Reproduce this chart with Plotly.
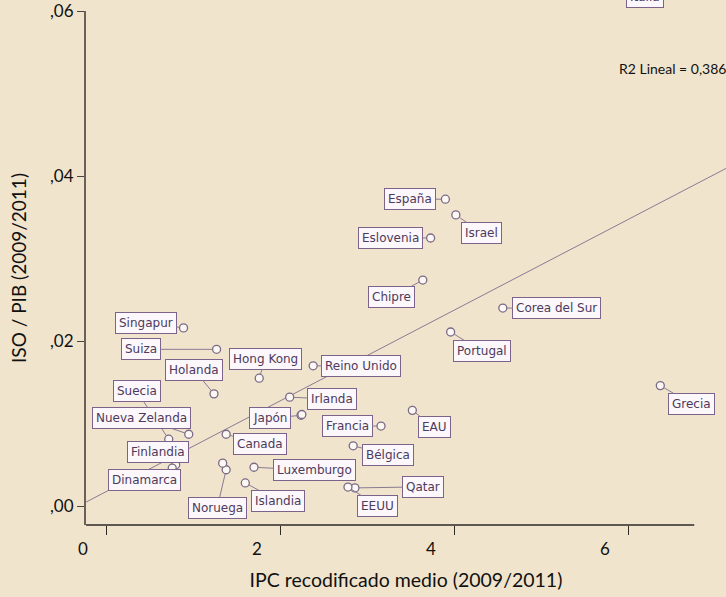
import plotly.graph_objects as go

# ---- data ----
countries = ["Singapur", "Suiza", "Hong Kong", "Holanda", "Suecia", "Nueva Zelanda",
             "Finlandia", "Dinamarca", "Canada", "Noruega", "Islandia", "Luxemburgo",
             "Japón", "Irlanda", "Reino Unido", "Francia", "EAU", "Bélgica", "Qatar",
             "EEUU", "España", "Israel", "Eslovenia", "Chipre", "Corea del Sur",
             "Portugal", "Grecia", "", ""]
ipc = [0.88, 1.26, 1.75, 1.23, 0.71, 0.94, 0.79, 0.75, 1.37, 1.37, 1.59, 1.69,
       2.23, 2.10, 2.37, 3.15, 3.51, 2.83, 2.85, 2.77, 3.89, 4.01, 3.72, 3.63,
       4.55, 3.95, 6.36, 1.33, 2.24]
iso_pib = [0.0216, 0.0190, 0.0155, 0.0136, 0.0081, 0.0087, 0.0050, 0.0046, 0.0087,
           0.0044, 0.0028, 0.0047, 0.0110, 0.0132, 0.0170, 0.0097, 0.0116, 0.0073,
           0.0022, 0.0023, 0.0372, 0.0353, 0.0325, 0.0274, 0.0240, 0.0211, 0.0146,
           0.0052, 0.0111]
italia_ipc = 6.18          # Italia lies above the visible range

fit_intercept = 0.0018
fit_slope = 0.0055
r2_text = "R2 Lineal = 0,386"

x_ticks = [0, 2, 4, 6]
x_ticktext = ["0", "2", "4", "6"]
y_ticks = [0.0, 0.02, 0.04, 0.06]
y_ticktext = [",00", ",02", ",04", ",06"]

# ---- label placement (pixel offsets of the label box from its point) ----
label_offsets = {
    "Singapur": (-38, -5), "Suiza": (-76, 0), "Hong Kong": (6, -19),
    "Holanda": (-20, -24), "Suecia": (-32, -48), "Nueva Zelanda": (-47, -16),
    "Finlandia": (-18, -13), "Dinamarca": (-28, 12), "Canada": (34, 10),
    "Noruega": (-9, 38), "Islandia": (33, 18), "Luxemburgo": (60, 3),
    "Japón": (-31, 3), "Irlanda": (42, 2), "Reino Unido": (48, 0),
    "Francia": (-34, 0), "EAU": (22, 17), "Bélgica": (35, 9), "Qatar": (68, -1),
    "EEUU": (30, 19), "España": (-35, 0), "Israel": (26, 18), "Eslovenia": (-40, 0),
    "Chipre": (-31, 17), "Corea del Sur": (54, 0), "Portugal": (31, 19),
    "Grecia": (31, 18),
}

BG = "#f0e4cd"
LABEL_FONT = dict(family="DejaVu Sans, Verdana", size=12, color="#4e3a5c")
x_range = [-0.241, 7.115]
y_range = [-0.0023, 0.06002]

fig = go.Figure()

# regression line
fig.add_trace(go.Scatter(
    x=x_range, y=[fit_intercept + fit_slope * v for v in x_range],
    mode="lines", line=dict(color="#8a7b93", width=1), hoverinfo="skip",
    showlegend=False))

# points
fig.add_trace(go.Scatter(
    x=ipc, y=iso_pib, mode="markers",
    marker=dict(size=8, color="#fbf8f3", line=dict(color="#7b6a86", width=1.3)),
    text=countries, showlegend=False))

annotations = []
for name, xv, yv in zip(countries, ipc, iso_pib):
    if not name:
        continue
    dx, dy = label_offsets[name]
    annotations.append(dict(
        x=xv, y=yv, xref="x", yref="y", text=name, showarrow=True,
        arrowhead=0, arrowwidth=1, arrowcolor="#8a7b93", ax=dx, ay=dy,
        axref="pixel", ayref="pixel", standoff=4,
        font=LABEL_FONT,
        bgcolor="#fbf7fb", bordercolor="#7d6389", borderwidth=1, borderpad=3))

# Italia label, cut off at the top edge (as in the original)
annotations.append(dict(
    x=italia_ipc, y=1, xref="x", yref="paper", text="Italia", showarrow=False,
    yanchor="bottom", yshift=3,
    font=LABEL_FONT,
    bgcolor="#fbf7fb", bordercolor="#7d6389", borderwidth=1, borderpad=3))

annotations.append(dict(
    x=1, y=0.889, xref="paper", yref="paper", text=r2_text, showarrow=False,
    xanchor="right", yanchor="middle", xshift=2,
    font=dict(family="Lato, Open Sans", size=14, color="#111111")))

# bottom axis line (ends before the right edge as in the original)
shapes = [dict(type="line", xref="x", yref="paper", x0=x_range[0], x1=6.75,
               y0=0, y1=0, line=dict(color="#2e2a26", width=1.5))]

fig.update_layout(
    width=726, height=597,
    margin=dict(l=86, r=0, t=11, b=72),
    paper_bgcolor=BG, plot_bgcolor=BG,
    font=dict(family="Lato, Open Sans", size=17, color="#111111"),
    annotations=annotations, shapes=shapes,
    xaxis=dict(range=x_range, tickvals=x_ticks, ticktext=x_ticktext,
               ticks="outside", ticklen=9, tickcolor="#2e2a26", tickwidth=1.2,
               showline=False, showgrid=False, zeroline=False,
               ticklabelshift=-24,
               title=dict(text="IPC recodificado medio (2009/2011)", standoff=14,
                          font=dict(size=19.5))),
    yaxis=dict(range=y_range, tickvals=y_ticks, ticktext=y_ticktext,
               ticks="outside", ticklen=7, tickcolor="#4a4540", tickwidth=1.2,
               showline=True, linecolor="#6b6158", linewidth=2,
               showgrid=False, zeroline=False,
               title=dict(text="ISO / PIB (2009/2011)", standoff=18,
                          font=dict(size=19))),
)

fig.write_html("out.html", config={"displayModeBar": False},
               post_script="document.body.style.margin='0';document.body.style.overflow='hidden';")
